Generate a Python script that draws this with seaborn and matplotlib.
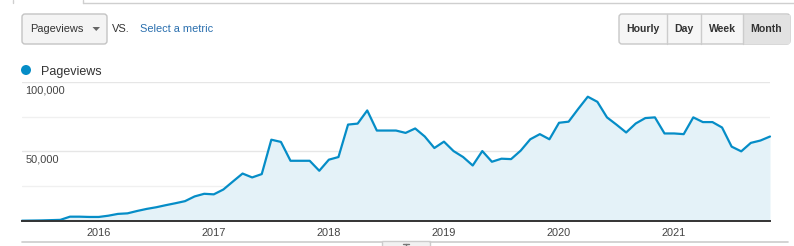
import numpy as np
import pandas as pd
import matplotlib
matplotlib.use("Agg")
import matplotlib.pyplot as plt
import matplotlib.transforms as mtransforms
from matplotlib.patches import FancyBboxPatch, Rectangle, Circle, Polygon
import seaborn as sns

# ---------------- data ----------------
months = pd.date_range("2015-05-01", "2021-11-01", freq="MS")
pageviews = [0, 100, 200, 400, 600, 2900, 2900, 2700, 2700, 3600,
             4900, 5300, 7000, 8500, 9700, 11200, 12600, 14100, 17500, 19400,
             19000, 22500, 28300, 34000, 31200, 33600, 58400, 56800, 43200, 43200,
             43200, 36000, 44000, 45900, 69300, 70000, 79500, 65000, 65000, 65000,
             63300, 66500, 60700, 52400, 57000, 50200, 45900, 39800, 50200, 42500,
             44700, 44400, 50500, 58700, 62400, 58700, 70600, 71400, 80600, 89400,
             85700, 74500, 69200, 63600, 70100, 74000, 74500, 62900, 62900, 62400,
             74500, 71100, 71100, 67200, 53400, 50000, 56100, 57800, 60700]
ytick_values = [50000, 100000]
ytick_labels = ["50,000", "100,000"]
grid_values = [25000, 50000, 75000, 100000]
metric_name = "Pageviews"
buttons = ["Hourly", "Day", "Week", "Month"]

df = pd.DataFrame({"month": months, "pageviews": pageviews})
df["m"] = (df["month"].dt.year - months[0].year) * 12 + (df["month"].dt.month - months[0].month)

# ---------------- style ----------------
sns.set_style("white")
plt.rcParams["font.family"] = ["Liberation Sans", "DejaVu Sans"]

W, H = 794, 246
fig = plt.figure(figsize=(W / 100, H / 100), dpi=100)
fig.patch.set_facecolor("white")

# overlay axes in pixel coordinates for the UI decorations
bg = fig.add_axes([0, 0, 1, 1], zorder=0)
bg.set_xlim(0, W)
bg.set_ylim(H, 0)
bg.axis("off")
bg.patch.set_alpha(0)

blue = "#058dc7"
fill_c = "#e4f2f8"

# top tab border
bg.plot([83, W], [3, 3], color="#cfcfcf", lw=1)
bg.plot([13, 13], [0, 3], color="#cfcfcf", lw=1)
bg.plot([83, 83], [0, 3], color="#cfcfcf", lw=1)

# dropdown
bg.add_patch(FancyBboxPatch((22, 14), 85, 30, boxstyle="round,pad=0,rounding_size=3",
                            facecolor="#f4f4f4", edgecolor="#c4c4c4", lw=1))
bg.text(30, 32.5, metric_name, fontsize=7.9, color="#333333", va="baseline", ha="left")
bg.add_patch(Polygon([(92.5, 27), (100, 27), (96.25, 31)], closed=True, facecolor="#666666", edgecolor="none"))
bg.text(112, 32.5, "VS.", fontsize=7.9, color="#333333", va="baseline", ha="left")
bg.text(140, 32.5, "Select a metric", fontsize=7.9, color="#2a6fae", va="baseline", ha="left")

# granularity buttons
bx = [619, 667, 701, 743, 790]
bg.add_patch(FancyBboxPatch((619, 14), 171, 30, boxstyle="round,pad=0,rounding_size=3",
                            facecolor="#f6f6f6", edgecolor="#c8c8c8", lw=1))
bg.add_patch(Rectangle((743, 14.5), 46.5, 29, facecolor="#e2e2e2", edgecolor="none"))
for xd in bx[1:4]:
    bg.plot([xd, xd], [14, 44], color="#cccccc", lw=1)
for i, lab in enumerate(buttons):
    bg.text((bx[i] + bx[i + 1]) / 2, 32, lab, fontsize=7.6, fontweight="bold",
            color="#333333", ha="center", va="baseline")

# legend
bg.add_patch(Circle((26, 70), 5, facecolor=blue, edgecolor="none"))
bg.text(41, 74.5, metric_name, fontsize=9, color="#333333", va="baseline", ha="left")

# bottom scroll strip
bg.plot([22, 382], [242, 242], color="#cccccc", lw=1.2)
bg.plot([430, 788], [242, 242], color="#cccccc", lw=1.2)
bg.add_patch(Rectangle((382, 240.5), 48, 8, facecolor="#f2f2f2", edgecolor="#cccccc", lw=1))
bg.plot([403, 409], [244, 244], color="#777777", lw=1)
bg.plot([406, 406], [244, 247], color="#777777", lw=1)

# ---------------- main chart ----------------
x0, x1 = 22, 770
ybase, ytop = 220.7, 82
ax = fig.add_axes([x0 / W, (H - ybase) / H, (x1 - x0) / W, (ybase - ytop) / H], zorder=1)
ax.patch.set_alpha(0)

ax.fill_between(df["m"], df["pageviews"], 0, color=fill_c, lw=0)
sns.lineplot(data=df, x="m", y="pageviews", color=blue, linewidth=1.6, ax=ax, clip_on=False)

ax.set_xlim(df["m"].min(), df["m"].max())
ax.set_ylim(0, 100000)
for gv in grid_values:
    ax.axhline(gv, color="#e6e6e6" if gv in ytick_values else "#f0f0f0", lw=1, zorder=0)

jan = df[df["month"].dt.month == 1]
ax.set_xticks(jan["m"])
ax.set_xticklabels(jan["month"].dt.year.astype(str))
ax.tick_params(axis="x", length=0, pad=5, labelsize=7.9, labelcolor="#444444")
ax.set_yticks([])
ax.set_xlabel("")
ax.set_ylabel("")

for s in ["top", "right", "left"]:
    ax.spines[s].set_visible(False)
ax.spines["bottom"].set_color("#333333")
ax.spines["bottom"].set_linewidth(1.4)

trans = mtransforms.offset_copy(ax.get_yaxis_transform(), fig=fig, x=3.5, y=-11.5, units="dots")
for v, lab in zip(ytick_values, ytick_labels):
    ax.text(0, v, lab, transform=trans, fontsize=7.9, color="#444444", ha="left", va="baseline")

fig.savefig("out.png", dpi=100, facecolor="white")
